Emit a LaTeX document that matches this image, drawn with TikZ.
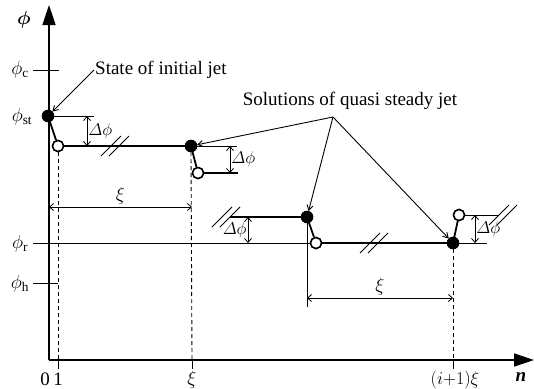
\RequirePackage{fix-cm}
\documentclass[tikz,border=0pt]{standalone}
\usepackage{amsmath,amssymb}
\usepackage{fontspec}
\setmainfont{Liberation Serif}
\usepackage{tikz}
\usetikzlibrary{arrows.meta,positioning,calc}
\tikzset{
  axis/.style={line width=1.6pt, -{Triangle[length=20pt,width=13pt]}},
  level/.style={line width=1.8pt},
  refline/.style={line width=1pt},
  thinline/.style={line width=0.8pt},
  guide/.style={line width=0.9pt, dash pattern=on 4pt off 3pt},
  dimline/.style={line width=0.8pt, {Straight Barb[length=4pt,width=7pt]}-{Straight Barb[length=4pt,width=7pt]}},
  pointer/.style={line width=0.9pt, -{Straight Barb[length=5pt,width=6pt]}},
  solid dot/.style={circle, fill=black, draw=black, inner sep=0pt, minimum size=12pt},
  open dot/.style={circle, fill=white, draw=black, line width=1.5pt, inner sep=0pt, minimum size=11pt},
  brkmark/.style={line width=1pt},
  lbl/.style={font=\fontsize{19}{22}\selectfont, inner sep=1pt},
  dlbl/.style={font=\fontsize{17}{20}\selectfont, inner sep=1pt},
  note/.style={font=\fontsize{19}{22}\selectfont, inner sep=1pt},
}

\begin{document}
\begin{tikzpicture}[x=1pt, y=-1pt]
  \useasboundingbox (0,0) rectangle (534,388);
  % axes
  \coordinate (O) at (49,360);
  \coordinate (ytop) at (49,5);
  \coordinate (xend) at (534,360);
  \draw[axis] (O) -- (ytop);
  \draw[axis] (O) -- (xend);
  \node[lbl] (phi) at (24,20) {$\boldsymbol{\phi}$};
  \node[lbl] (nlab) at (521,377) {\textbf{\textit{n}}};

  % phi levels on the vertical axis
  \node[lbl] (phic) at (20,70) {$\phi_{\mathrm{c}}$};
  \node[lbl] (phist) at (22,117) {$\phi_{\mathrm{st}}$};
  \node[lbl] (phir) at (20,244) {$\phi_{\mathrm{r}}$};
  \node[lbl] (phih) at (20,284) {$\phi_{\mathrm{h}}$};
  \draw[thinline] (33,70) -- (59,70);
  \draw[thinline] (42,116) -- (49,116);
  \draw[thinline] (33,283) -- (58,283);
  \draw[thinline] (33,243) -- (487,243);

  % ticks on the horizontal axis
  \foreach \t in {58,192,453} { \draw[thinline] (\t,360) -- (\t,369); }
  \node[lbl] (t0) at (45,379) {0};
  \node[lbl] (t1) at (58,379) {1};
  \node[lbl] (txi) at (192,380) {$\xi$};
  \node[lbl, font=\fontsize{18}{20}\selectfont] (tixi) at (455,380) {$(i{+}1)\xi$};

  % states
  \node[solid dot] (d1) at (48,116) {};
  \node[open dot]  (h1) at (58,146) {};
  \node[solid dot] (d2) at (191,146) {};
  \node[open dot]  (h2) at (198,173) {};
  \node[solid dot] (d3) at (307,217) {};
  \node[open dot]  (h3) at (316,243) {};
  \node[solid dot] (d4) at (453,243) {};
  \node[open dot]  (h4) at (459,215) {};

  % guides down to the axis
  \draw[guide] (h1.south) -- (58,360);
  \draw[guide] (d2.south) -- (192,360);
  \draw[guide] (d4.south) -- (453,360);
  \draw[thinline] (d3.south) -- (307,307);

  % jet levels
  \draw[level] (h1) -- (d2);
  \draw[level] (h2) -- (238,173);
  \draw[level] (230,217) -- (d3);
  \draw[level] (h3) -- (d4);
  \draw[refline] (d1) -- (94,116);
  \draw[refline] (d2) -- (237,146);
  \draw[refline] (h4) -- (498,215);
  \draw[level] (d1) -- (h1);
  \draw[level] (d2) -- (h2);
  \draw[level] (d3) -- (h3);
  \draw[level] (d4) -- (h4);

  % breaks
  \coordinate (b1) at (115,146);
  \coordinate (b2) at (226,217);
  \coordinate (b3) at (374,243);
  \coordinate (b4) at (503,215);
  \foreach \c in {b1,b2,b3,b4}
    \foreach \o in {-4,4} { \draw[brkmark] ($(\c)+(\o-10,10)$) -- ++(20,-20); }

  % redraw dots on top
  \foreach \n in {d1,d2,d3,d4} { \node[solid dot] at (\n) {}; }
  \foreach \n in {h1,h2,h3,h4} { \node[open dot] at (\n) {}; }

  % delta phi
  \draw[dimline] (87,116) -- node[dlbl, right] (dp1) {$\varDelta\phi$} (87,146);
  \draw[dimline] (230,146) -- node[dlbl, right] (dp2) {$\varDelta\phi$} (230,173);
  \draw[dimline] (248,217) -- node[dlbl, left] (dp3) {$\varDelta\phi$} (248,243);
  \draw[dimline] (475,215) -- node[dlbl, right] (dp4) {$\varDelta\phi$} (475,243);

  % periods
  \draw[dimline] (49,207) -- node[lbl, above=1pt] (xi1) {$\xi$} (192,207);
  \draw[dimline] (307,298) -- node[lbl, above=1pt] (xi2) {$\xi$} (453,298);

  % callouts
  \node[note, anchor=west] (sij) at (94,70) {State of initial jet};
  \draw[pointer] (sij.west) -- (d1);
  \node[note] (sqs) at (350,101) {Solutions of quasi steady jet};
  \coordinate (fork) at (333,117);
  \draw[pointer] (fork) -- (d2);
  \draw[pointer] (fork) -- (d3);
  \draw[pointer] (fork) -- (d4);
\end{tikzpicture}
\end{document}
